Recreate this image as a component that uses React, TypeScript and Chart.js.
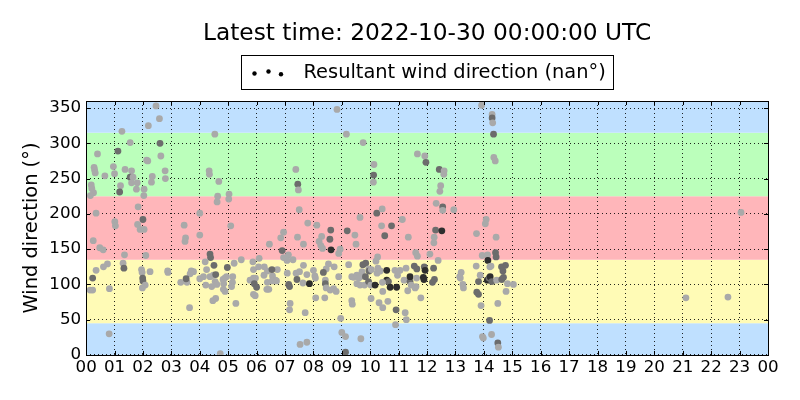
import React, { useEffect, useRef } from "react";
import { Chart, registerables } from "chart.js";

Chart.register(...registerables);

const FONT = "'DejaVu Sans', sans-serif";
const titleText = "Latest time: 2022-10-30 00:00:00 UTC";
const seriesLabel = "Resultant wind direction (nan°)";
const yAxisLabel = "Wind direction (°)";

// direction bands (degrees) and their fill colours
const bandEdges = [0, 45, 135, 225, 315, 360];
const bandColors = ["#bfe0ff", "#fffbb6", "#ffb6ba", "#bbffbb", "#bfe0ff"];

// observation time (hours of day, UTC)
const hours = [
  // 00-04
  2.46, 2.58, 2.19, 1.26, 1.55, 2.60, 0.40, 1.12, 2.63, 2.13,
  2.17, 0.28, 0.30, 0.32, 0.96, 1.00, 0.66, 1.37, 1.60, 1.55,
  1.65, 2.78, 2.33, 2.30, 2.79, 1.80, 1.60, 0.18, 0.20, 0.26,
  0.15, 1.21, 1.18, 1.77, 2.04, 2.03, 0.35, 1.83, 1.01, 1.03,
  2.00, 1.81, 1.90, 2.04, 3.45, 3.50, 3.48, 0.25, 0.48, 0.60,
  1.35, 2.10, 0.75, 0.61, 1.30, 0.35, 1.33, 1.95, 1.97, 2.25,
  2.87, 2.88, 3.70, 3.78, 3.66, 0.23, 1.99, 2.00, 3.33, 3.55,
  3.52, 0.14, 0.23, 0.82, 2.08, 1.98, 3.64, 0.81, 4.00, 4.00,
  4.00,
  // 04-08
  4.53, 4.33, 4.34, 4.67, 4.63, 4.61, 5.03, 5.02, 5.09, 7.38,
  7.45, 7.47, 7.50, 7.80, 6.95, 6.85, 7.44, 7.65, 6.45, 4.36,
  4.38, 4.19, 5.21, 5.46, 5.87, 6.09, 6.90, 7.12, 7.28, 7.07,
  6.95, 4.50, 4.97, 5.89, 6.07, 6.27, 6.38, 6.73, 7.65, 4.24,
  4.13, 4.36, 4.48, 4.56, 4.88, 4.94, 5.16, 5.89, 5.96, 6.26,
  6.56, 6.66, 6.54, 7.08, 7.39, 7.51, 7.77, 4.54, 4.21, 4.42,
  4.60, 4.82, 4.84, 5.15, 5.12, 5.77, 5.92, 6.00, 6.38, 6.55,
  6.70, 7.13, 7.16, 7.42, 7.63, 7.86, 6.36, 6.43, 4.83, 4.89,
  5.89, 5.95, 4.56, 4.46, 5.27, 7.18, 7.16, 7.71, 7.53, 7.77,
  4.72,
  // 08-12
  8.83, 9.16, 9.75, 11.66, 10.13, 10.12, 10.11, 9.64, 10.23, 10.42,
  8.12, 8.61, 9.19, 9.46, 10.40, 10.75, 11.13, 10.51, 11.34, 8.58,
  8.29, 8.20, 8.26, 8.32, 9.50, 8.62, 8.94, 8.89, 11.60, 10.26,
  10.20, 9.74, 9.84, 9.95, 9.24, 8.53, 8.73, 8.00, 8.05, 8.07,
  8.45, 8.35, 8.89, 9.35, 9.41, 9.53, 9.60, 9.71, 9.65, 9.83,
  9.96, 10.04, 10.27, 10.24, 10.35, 10.58, 10.87, 10.96, 11.05, 11.26,
  11.55, 11.64, 9.53, 9.64, 9.80, 9.94, 10.02, 10.17, 10.58, 10.64,
  10.70, 10.93, 10.43, 10.44, 11.19, 11.40, 11.44, 11.58, 11.32, 8.42,
  8.42, 8.45, 8.71, 8.80, 8.59, 9.35, 9.37, 10.03, 10.31, 10.62,
  8.08, 8.40, 8.96, 10.44, 10.91, 11.23, 11.27, 10.89, 9.00, 9.13,
  9.67, 9.13,
  // 12-24
  13.92, 14.29, 14.29, 14.31, 14.34, 11.92, 11.96, 14.35, 14.40, 12.43,
  12.60, 12.59, 12.48, 12.45, 12.32, 12.55, 12.55, 12.94, 14.08, 14.05,
  12.30, 12.52, 12.25, 12.24, 13.74, 14.43, 11.66, 12.10, 12.39, 13.94,
  14.13, 14.41, 14.43, 14.14, 11.90, 11.93, 12.23, 13.20, 13.73, 14.21,
  14.25, 14.62, 14.76, 14.67, 11.40, 11.63, 11.87, 11.89, 11.61, 12.26,
  12.19, 13.15, 13.17, 13.26, 13.28, 13.87, 13.81, 14.12, 14.18, 14.22,
  14.28, 14.45, 14.63, 14.69, 14.83, 15.04, 13.75, 13.81, 14.78, 11.78,
  13.90, 14.49, 14.20, 13.95, 13.98, 14.27, 14.49, 14.51, 21.11, 22.59,
  23.05,
];

// resultant wind direction (degrees)
const directions = [
  // 00-04
  353, 335, 325, 317, 301, 300, 285, 289, 282, 276,
  275, 266, 262, 258, 267, 257, 254, 263, 261, 252,
  252, 261, 253, 245, 250, 244, 244, 241, 236, 230,
  226, 240, 231, 235, 235, 226, 201, 210, 189, 183,
  192, 185, 178, 178, 184, 166, 161, 162, 152, 149,
  142, 141, 129, 125, 130, 120, 123, 121, 117, 118,
  119, 117, 119, 118, 115, 109, 109, 105, 103, 103,
  108, 92, 92, 94, 99, 95, 67, 30, 201, 170,
  108,
  // 04-08
  313, 261, 256, 246, 225, 217, 228, 221, 183, 263,
  242, 234, 206, 187, 174, 166, 167, 157, 157, 143,
  138, 132, 130, 135, 132, 137, 148, 142, 135, 134,
  138, 127, 124, 121, 125, 125, 119, 121, 127, 121,
  111, 111, 113, 114, 109, 111, 111, 109, 109, 113,
  112, 106, 121, 116, 116, 118, 114, 104, 99, 97,
  100, 107, 101, 103, 97, 106, 101, 96, 103, 105,
  105, 100, 97, 107, 102, 101, 93, 93, 93, 90,
  86, 84, 80, 77, 73, 73, 64, 60, 15, 18,
  2,
  // 08-12
  348, 313, 301, 285, 270, 255, 245, 195, 201, 207,
  184, 177, 176, 170, 183, 183, 192, 169, 167, 164,
  168, 161, 155, 151, 157, 149, 150, 144, 145, 139,
  133, 128, 130, 122, 128, 129, 125, 120, 112, 109,
  122, 117, 111, 111, 110, 113, 109, 118, 111, 111,
  119, 121, 123, 116, 119, 120, 120, 113, 120, 123,
  126, 122, 101, 99, 99, 104, 99, 99, 106, 104,
  96, 96, 103, 90, 106, 104, 99, 95, 91, 106,
  101, 95, 94, 90, 92, 77, 72, 80, 74, 76,
  81, 81, 52, 67, 64, 60, 50, 43, 32, 26,
  23, 4,
  // 12-24
  354, 341, 336, 329, 313, 282, 273, 280, 275, 263,
  261, 256, 240, 232, 215, 210, 205, 206, 192, 186,
  177, 176, 167, 159, 172, 167, 140, 143, 134, 141,
  142, 145, 139, 134, 125, 120, 123, 117, 126, 125,
  126, 125, 127, 119, 111, 109, 110, 107, 97, 107,
  103, 111, 109, 100, 95, 113, 104, 106, 109, 111,
  104, 106, 107, 110, 101, 100, 89, 86, 90, 81,
  70, 73, 49, 26, 24, 29, 17, 11, 81, 82,
  202,
];

// wind speed class (0 = light, 1 = moderate, 2 = strong) -> grey shade
const speedClass = [
  // 00-04
  0, 0, 0, 0, 0, 1, 0, 1, 0, 0,
  0, 0, 0, 0, 0, 0, 0, 0, 0, 1,
  0, 0, 0, 0, 0, 0, 0, 0, 0, 0,
  0, 0, 1, 0, 0, 0, 0, 0, 0, 0,
  1, 0, 0, 0, 0, 0, 0, 0, 0, 0,
  0, 0, 0, 0, 0, 0, 1, 0, 0, 0,
  0, 0, 0, 0, 0, 1, 1, 1, 0, 0,
  1, 0, 0, 0, 0, 0, 0, 0, 0, 0,
  0,
  // 04-08
  0, 0, 0, 0, 0, 0, 0, 0, 0, 0,
  1, 0, 0, 0, 0, 0, 0, 0, 0, 1,
  1, 0, 0, 0, 0, 0, 1, 0, 0, 0,
  0, 1, 1, 0, 0, 0, 0, 0, 0, 0,
  0, 0, 0, 1, 0, 0, 0, 0, 0, 0,
  0, 0, 1, 0, 0, 0, 0, 0, 0, 0,
  0, 0, 0, 0, 0, 0, 1, 1, 0, 0,
  0, 1, 1, 1, 0, 2, 0, 0, 0, 0,
  0, 0, 0, 0, 0, 0, 0, 0, 0, 0,
  0,
  // 08-12
  0, 0, 0, 0, 0, 1, 0, 0, 1, 0,
  0, 1, 1, 0, 0, 1, 0, 1, 0, 1,
  0, 0, 0, 0, 0, 2, 0, 0, 0, 0,
  0, 1, 1, 0, 0, 0, 0, 0, 0, 0,
  0, 1, 0, 0, 0, 0, 0, 0, 0, 1,
  1, 0, 0, 0, 0, 2, 0, 0, 0, 0,
  1, 1, 0, 0, 0, 1, 0, 2, 2, 1,
  2, 2, 0, 0, 0, 1, 0, 0, 0, 0,
  1, 0, 0, 0, 0, 0, 0, 0, 0, 0,
  0, 0, 0, 0, 1, 0, 0, 0, 0, 0,
  0, 1,
  // 12-24
  0, 0, 1, 0, 1, 0, 1, 0, 0, 1,
  0, 0, 0, 0, 0, 1, 0, 0, 0, 0,
  1, 2, 0, 0, 0, 0, 0, 0, 0, 0,
  0, 1, 1, 2, 1, 2, 1, 0, 0, 0,
  0, 1, 1, 1, 2, 0, 2, 2, 0, 1,
  1, 0, 0, 0, 0, 0, 1, 2, 1, 2,
  1, 0, 1, 1, 0, 0, 1, 1, 0, 0,
  0, 0, 1, 0, 0, 0, 1, 0, 0, 0,
  0,
];

const shadeColors = ["#a9a9a9", "#6c6c6c", "#2e2e2e"];

const decorPlugin = {
  id: "decor",
  beforeDraw(chart: any) {
    const { ctx, chartArea: a, scales } = chart;
    const y = scales.y;
    ctx.save();
    for (let i = 0; i < bandColors.length; i++) {
      const top = y.getPixelForValue(bandEdges[i + 1]);
      const bot = y.getPixelForValue(bandEdges[i]);
      ctx.fillStyle = bandColors[i];
      ctx.fillRect(a.left, top, a.right - a.left, bot - top);
    }
    ctx.restore();
  },
  afterDraw(chart: any) {
    const { ctx, chartArea: a, scales } = chart;
    const x = scales.x;
    const y = scales.y;
    ctx.save();
    ctx.strokeStyle = "#000";
    ctx.lineWidth = 1;
    // inward ticks
    ctx.beginPath();
    x.ticks.forEach((t: any) => {
      const px = Math.round(x.getPixelForValue(t.value)) + 0.5;
      ctx.moveTo(px, a.bottom);
      ctx.lineTo(px, a.bottom - 4);
      ctx.moveTo(px, a.top);
      ctx.lineTo(px, a.top + 4);
    });
    y.ticks.forEach((t: any) => {
      const py = Math.round(y.getPixelForValue(t.value)) + 0.5;
      ctx.moveTo(a.left, py);
      ctx.lineTo(a.left + 4, py);
      ctx.moveTo(a.right, py);
      ctx.lineTo(a.right - 4, py);
    });
    ctx.stroke();
    // frame
    ctx.strokeRect(Math.round(a.left) + 0.5, Math.round(a.top) + 0.5, Math.round(a.right - a.left), Math.round(a.bottom - a.top));

    const cx = (a.left + a.right) / 2;

    // title, centred over the plot area
    ctx.fillStyle = "#000";
    ctx.textBaseline = "middle";
    ctx.textAlign = "center";
    ctx.font = `23.3px ${FONT}`;
    ctx.fillText(titleText, cx, 34);

    // legend box
    ctx.font = `19.4px ${FONT}`;
    const tw = ctx.measureText(seriesLabel).width;
    const boxW = Math.round(62 + tw + 8);
    const left = Math.round(cx - boxW / 2) + 0.5;
    const top = 55.5;
    const boxH = 34;
    ctx.fillStyle = "#fff";
    ctx.fillRect(left, top, boxW, boxH);
    ctx.strokeRect(left, top, boxW, boxH);
    ctx.fillStyle = "#000";
    const dots = [
      [13, 18],
      [27, 16],
      [39.5, 18.7],
    ];
    dots.forEach(([dx, dy]) => {
      ctx.beginPath();
      ctx.arc(left + dx, top + dy, 2.2, 0, Math.PI * 2);
      ctx.fill();
    });
    ctx.textAlign = "left";
    ctx.fillText(seriesLabel, left + 62, top + boxH / 2);
    ctx.restore();
  },
};

export default function App() {
  const canvasRef = useRef<HTMLCanvasElement | null>(null);

  useEffect(() => {
    const canvas = canvasRef.current;
    if (!canvas) return;
    const n = Math.min(hours.length, directions.length, speedClass.length);
    const points = [];
    const colors = [];
    for (let i = 0; i < n; i++) {
      points.push({ x: hours[i], y: directions[i] });
      colors.push(shadeColors[speedClass[i]]);
    }
    const chart = new Chart(canvas, {
      type: "scatter",
      data: {
        datasets: [
          {
            label: seriesLabel,
            data: points,
            pointBackgroundColor: colors,
            pointBorderWidth: 0,
            pointBorderColor: "rgba(0,0,0,0)",
            pointRadius: 3.4,
          },
        ],
      },
      options: {
        animation: false,
        responsive: true,
        maintainAspectRatio: false,
        layout: { padding: { left: 20, right: 32, top: 101, bottom: 19 } },
        plugins: {
          legend: { display: false },
          tooltip: { enabled: false },
          title: { display: false },
        },
        scales: {
          x: {
            type: "linear",
            min: 0,
            max: 24,
            ticks: {
              stepSize: 1,
              autoSkip: false,
              maxRotation: 0,
              includeBounds: true,
              color: "#000",
              padding: 3,
              font: { family: FONT, size: 16.7 },
              callback: (v: any) => String(Number(v) % 24).padStart(2, "0"),
            },
            grid: { color: "rgba(0,0,0,0.85)", lineWidth: 1, drawTicks: false },
            border: { display: false, dash: [1, 3] },
          },
          y: {
            min: 0,
            max: 360,
            ticks: {
              stepSize: 50,
              includeBounds: false,
              color: "#000",
              padding: 5,
              font: { family: FONT, size: 16.7 },
            },
            title: {
              display: true,
              text: yAxisLabel,
              color: "#000",
              font: { family: FONT, size: 19.4 },
              padding: { top: 0, bottom: 1 },
            },
            grid: { color: "rgba(0,0,0,0.85)", lineWidth: 1, drawTicks: false },
            border: { display: false, dash: [1, 3] },
          },
        },
      },
      plugins: [decorPlugin],
    });
    return () => chart.destroy();
  }, []);

  return (
    <div style={{ position: "fixed", left: 0, top: 0, width: 800, height: 400, background: "#fff" }}>
      <canvas ref={canvasRef} />
    </div>
  );
}
